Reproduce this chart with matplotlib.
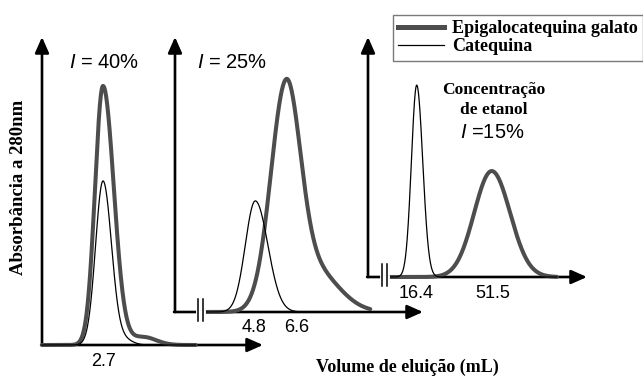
import numpy as np
import matplotlib
matplotlib.use("Agg")
import matplotlib.pyplot as plt
from matplotlib.lines import Line2D

plt.rcParams["mathtext.fontset"] = "custom"
plt.rcParams["mathtext.rm"] = "Liberation Sans"
plt.rcParams["mathtext.it"] = "Liberation Sans:italic"

# ---- chromatogram data (elution volume in mL, absorbance in relative units) ----
ethanol_levels = ["40%", "25%", "15%"]

# main peak component + tailing component for each compound and panel
egcg_position = [2.7, 6.6, 51.5]
egcg_height = [1.0, 0.80, 0.409]
egcg_sigma_left = [0.354, 0.89, 8.2]
egcg_sigma_right = [0.478, 0.83, 8.6]
egcg_tail_position = [4.47, 8.15, 51.5]
egcg_tail_height = [0.031, 0.17, 0.0]
egcg_tail_sigma = [0.575, 1.48, 1.0]

cat_position = [2.7, 4.8, 16.4]
cat_height = [0.633, 0.429, 0.741]
cat_sigma_left = [0.33, 0.59, 2.48]
cat_sigma_right = [0.376, 0.74, 2.81]
cat_tail_position = [3.67, 4.8, 16.4]
cat_tail_height = [0.019, 0.0, 0.0]
cat_tail_sigma = [0.354, 1.0, 1.0]

peak_labels = [["2.7"], ["4.8", "6.6"], ["16.4", "51.5"]]
peak_label_values = [[2.7], [4.8, 6.6], [16.4, 51.5]]

legend_labels = ["Epigalocatequina galato", "Catequina"]


def peak(x, pos, h, sl, sr, tpos, th, ts):
    sig = np.where(x < pos, sl, sr)
    y = h * np.exp(-0.5 * ((x - pos) / sig) ** 2)
    y += th * np.exp(-0.5 * ((x - tpos) / ts) ** 2)
    return y


W, H = 643, 378
fig = plt.figure(figsize=(W / 100, H / 100), dpi=100)
fig.patch.set_facecolor("white")

# panel frames in pixels: left, right (arrow tip), baseline, top (arrow tip)
frames = [(42, 263, 345, 37), (175, 423, 312, 37), (368, 587, 277, 37)]
xlims = [(0.0, 9.78), (0.05, 14.72), (-6.4, 96.1)]
curve_ranges = [(0.0, 6.8), (1.7, 11.6), (2.5, 82.0)]
px_per_unit = 259.0
breaks = [None, 200.5, 384.5]
label_shift = [[0], [-1, 11], [-1, 1]]
title_pos = [(104, 62), (232, 62), (492, 133)]
title_fmt = [r"$I$ = {}", r"$I$ = {}", r"$I$ ={}"]

egcg_color = "#4d4d4d"
sans = "Liberation Sans"
serif = "Liberation Serif"

for i, (l, r, b, t) in enumerate(frames):
    ax = fig.add_axes([l / W, 1 - b / H, (r - l) / W, (b - t) / H])
    ax.set_facecolor("none")
    ax.set_xlim(*xlims[i])
    ax.set_ylim(0, (b - t) / px_per_unit)
    for s in ax.spines.values():
        s.set_visible(False)
    ax.set_xticks([])
    ax.set_yticks([])

    arrow = dict(arrowstyle="-|>,head_length=0.95,head_width=0.42",
                 lw=1.9, color="black", shrinkA=0, shrinkB=0)
    ax.annotate("", xy=(0, 1), xytext=(0, 0), xycoords="axes fraction",
                arrowprops=arrow, annotation_clip=False)
    ax.annotate("", xy=(1, 0), xytext=(-0.004, 0), xycoords="axes fraction",
                arrowprops=arrow, annotation_clip=False)

    x = np.linspace(curve_ranges[i][0], curve_ranges[i][1], 800)
    y_cat = peak(x, cat_position[i], cat_height[i], cat_sigma_left[i],
                 cat_sigma_right[i], cat_tail_position[i], cat_tail_height[i],
                 cat_tail_sigma[i])
    y_egcg = peak(x, egcg_position[i], egcg_height[i], egcg_sigma_left[i],
                  egcg_sigma_right[i], egcg_tail_position[i],
                  egcg_tail_height[i], egcg_tail_sigma[i])
    ax.plot(x, y_egcg, color=egcg_color, lw=2.9, solid_capstyle="round",
            clip_on=False, zorder=3)
    ax.plot(x, y_cat, color="black", lw=0.9, clip_on=False, zorder=4)

    # axis break marks
    if breaks[i] is not None:
        bx = (breaks[i] - l) / (r - l)
        gap = 2.6 / (r - l)
        hh = 11 / (b - t)
        ax.plot([bx - gap, bx + gap], [0, 0], transform=ax.transAxes,
                color="white", lw=3.5, clip_on=False, zorder=5)
        for gx in (bx - gap, bx + gap):
            ax.plot([gx, gx], [-hh * 0.8, hh * 1.2], transform=ax.transAxes,
                    color="black", lw=1.1, clip_on=False, zorder=6)

    for val, lab, dx in zip(peak_label_values[i], peak_labels[i], label_shift[i]):
        ax.annotate(lab, xy=(val, 0), xytext=(dx, -16), textcoords="offset pixels",
                    ha="center", va="center", fontsize=13, family=sans,
                    annotation_clip=False)

    tx, ty = title_pos[i]
    fig.text(tx / W, 1 - ty / H, title_fmt[i].format(ethanol_levels[i]),
             ha="center", va="center", fontsize=14.5, family=sans)

fig.text(494 / W, 1 - 90 / H, "Concentração", ha="center", va="center",
         fontsize=12.5, family=serif, weight="bold")
fig.text(494 / W, 1 - 110 / H, "de etanol", ha="center", va="center",
         fontsize=12.5, family=serif, weight="bold")

fig.text(19 / W, 1 - 187 / H, "Absorbância a 280nm", rotation=90,
         ha="center", va="center", fontsize=13.5, family=serif, weight="bold")
fig.text(407 / W, 1 - 367 / H, "Volume de eluição (mL)", ha="center",
         va="center", fontsize=13, family=serif, weight="bold")

handles = [Line2D([], [], color=egcg_color, lw=3.6),
           Line2D([], [], color="black", lw=0.9)]
leg = fig.legend(handles, legend_labels, loc="upper left",
                 bbox_to_anchor=(393 / W, 1 - 15 / H), borderaxespad=0,
                 borderpad=0.3, handlelength=2.5, handletextpad=0.45,
                 labelspacing=0.05, fancybox=False, framealpha=1,
                 prop={"family": serif, "weight": "bold", "size": 13})
leg.get_frame().set_edgecolor("#7a7a7a")
leg.get_frame().set_linewidth(1.0)

fig.savefig("out.png", dpi=100)
